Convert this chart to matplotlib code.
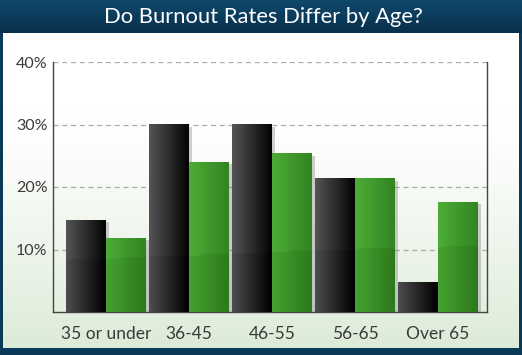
import matplotlib.pyplot as plt
import matplotlib.patheffects as pe
import numpy as np
from matplotlib.colors import to_rgb

plt.rcParams['font.family'] = ['Lato', 'DejaVu Sans']

# data
categories = ['35 or under', '36-45', '46-55', '56-65', 'Over 65']
serie_preta = [14.7, 30.0, 30.0, 21.3, 4.8]
serie_verde = [11.8, 24.0, 25.3, 21.3, 17.6]
yticks = [10, 20, 30, 40]
ytick_labels = ['10%', '20%', '30%', '40%']
titulo = 'Do Burnout Rates Differ by Age?'

NAVY = '#0b3a59'
W, H = 522, 355

fig = plt.figure(figsize=(W / 100, H / 100), dpi=100)
fig.patch.set_facecolor(NAVY)

# painel de fundo (branco -> verde claro)
ax_bg = fig.add_axes([3 / W, 7 / H, 516 / W, 315 / H])
t = np.linspace(0, 1, 200)[:, None]
topo = np.array(to_rgb('#ffffff'))
base = np.array(to_rgb('#dcebd7'))
peso = np.clip((t - 0.25) / 0.75, 0, 1) ** 1.3
grad = topo * (1 - peso[..., None]) + base * peso[..., None]
grad = np.repeat(grad, 2, axis=1)
ax_bg.imshow(grad, aspect='auto', extent=[0, 1, 0, 1], origin='upper')
ax_bg.axis('off')

# barra do titulo
ax_t = fig.add_axes([0, 322 / H, 1, 33 / H])
tt = np.linspace(0, 1, 50)[:, None]
c1 = np.array(to_rgb('#10486b'))
c2 = np.array(to_rgb('#07304c'))
gt = c1 * (1 - tt[..., None]) + c2 * tt[..., None]
gt = np.repeat(gt, 2, axis=1)
ax_t.imshow(gt, aspect='auto', extent=[0, 1, 0, 1], origin='upper')
ax_t.text(0.505, 0.47, titulo, color='white', fontsize=15.8, ha='center', va='center',
          transform=ax_t.transAxes)
ax_t.axis('off')

# eixo principal
ax = fig.add_axes([53 / W, 43 / H, 434 / W, 250 / H])
ax.set_facecolor('none')
x = np.arange(len(categories))
w = 40 / 83
xmin, xmax = -53 / 83, 4 + 49 / 83

sombra = [pe.SimplePatchShadow(offset=(2.5, -1.5), shadow_rgbFace='#777777', alpha=0.35), pe.Normal()]
b1 = ax.bar(x - w / 2, serie_preta, w, color='#222222', zorder=3, path_effects=sombra)
b2 = ax.bar(x + w / 2, serie_verde, w, color='#3a8d28', zorder=3, path_effects=sombra)


def pinta(barras, cor_esq, cor_dir):
    ce = np.array(to_rgb(cor_esq))
    cd = np.array(to_rgb(cor_dir))
    for p in barras:
        x0, h = p.get_x(), p.get_height()
        nx, ny = 30, 80
        u = np.linspace(0, 1, nx)
        cols = ce[None, :] * (1 - u[:, None]) + cd[None, :] * u[:, None]
        ys = np.linspace(h, 0, ny)
        xs = x0 + u * p.get_width()
        img = np.repeat(cols[None, :, :], ny, axis=0)
        # brilho na parte de cima
        lim = 8.3 + (xs - xmin) / (xmax - xmin) * 2.4
        acima = ys[:, None] > lim[None, :]
        img = np.where(acima[..., None], np.clip(img * 1.05 + 0.015, 0, 1), img)
        ax.imshow(img, extent=[x0, x0 + p.get_width(), 0, h], aspect='auto',
                  clip_path=p, zorder=3.5, interpolation='bilinear')


pinta(b1, '#4d4d4f', '#000000')
pinta(b2, '#45a12f', '#2d7a1d')

ax.set_xlim(xmin, xmax)
ax.set_ylim(0, 40)
ax.set_yticks(yticks)
ax.set_yticklabels(ytick_labels)
ax.set_xticks(x)
ax.set_xticklabels(categories)
ax.tick_params(axis='y', length=0, pad=4, labelsize=11.5, labelcolor='#3a3a3a')
ax.tick_params(axis='x', length=0, pad=10, labelsize=12.5, labelcolor='#3a3a3a')
ax.yaxis.grid(True, linestyle=(0, (4, 3)), color='#aaaaaa', linewidth=0.9, zorder=1)
ax.set_axisbelow(True)
for lado in ['left', 'right', 'bottom']:
    ax.spines[lado].set_color('#444444')
    ax.spines[lado].set_linewidth(1.0)
ax.spines['top'].set_visible(False)

plt.savefig('out.png', dpi=100, facecolor=fig.get_facecolor())
plt.close()
